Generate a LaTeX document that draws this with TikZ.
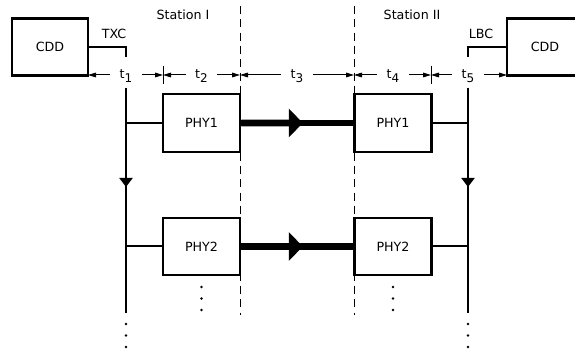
\documentclass[tikz,border=0pt]{standalone}
\usepackage{fontspec}
\setmainfont{DejaVu Sans}
\usetikzlibrary{arrows.meta,positioning,calc}
\newcommand{\tlab}[1]{t\raisebox{-0.55ex}{\small #1}}

\begin{document}
\begin{tikzpicture}[x=0.75pt, y=-0.75pt, every node/.style={font=\fontsize{9.5}{11}\selectfont},
    unitbox/.style={draw, line width=2.2pt, inner sep=0pt},
    busline/.style={line width=1.5pt},
    dimline/.style={line width=0.75pt},
    dimarrow/.style={line width=0.75pt, -{Triangle[length=6pt,width=3.5pt]}},
    stationline/.style={line width=0.75pt, dash pattern=on 6pt off 4pt},
    flowline/.style={line width=5pt}]
    \clip (0,0) rectangle (575,352);
    \useasboundingbox (0,0) rectangle (575,352);

    % station boundaries
    \draw[stationline] (240,6) -- (240,315);
    \draw[stationline] (354,6) -- (354,315);
    \node (stI) at (183,15) {Station I};
    \node (stII) at (412,15) {Station II};

    % control devices
    \node[unitbox, minimum width=57pt, minimum height=42.75pt] (cddL) at (50,47) {CDD};
    \node[unitbox, minimum width=57pt, minimum height=42.75pt] (cddR) at (545,47) {CDD};
    \node (txc) at (114,34) {TXC};
    \node (lbc) at (481,34) {LBC};

    % physical layer units
    \node[unitbox, minimum width=57.75pt, minimum height=43.5pt] (phy1L) at (201.5,123) {PHY1};
    \node[unitbox, minimum width=57.75pt, minimum height=43.5pt] (phy1R) at (393,123) {PHY1};
    \node[unitbox, minimum width=57.75pt, minimum height=42.75pt] (phy2L) at (201.5,246.5) {PHY2};
    \node[unitbox, minimum width=57.75pt, minimum height=42.75pt] (phy2R) at (393,246.5) {PHY2};

    % buses
    \coordinate (txcEnd) at (126,57);
    \coordinate (lbcEnd) at (468,57);
    \coordinate (busLtop) at (126,88);
    \coordinate (busLmid) at (126,187);
    \coordinate (busLbot) at (126,313);
    \coordinate (busRtop) at (468,88);
    \coordinate (busRmid) at (468,187);
    \coordinate (busRbot) at (468,313);
    \draw[busline] (cddL.east) -| (txcEnd);
    \draw[busline] (cddR.west) -| (lbcEnd);
    \draw[busline] (busLtop) -- (busLbot);
    \draw[busline, -{Triangle[length=6.75pt,width=9.75pt]}] (busLtop) -- (busLmid);
    \draw[busline] (busRtop) -- (busRbot);
    \draw[busline, -{Triangle[length=6.75pt,width=9.75pt]}] (busRtop) -- (busRmid);
    \draw[busline] (busLtop |- phy1L.west) -- (phy1L.west);
    \draw[busline] (busLtop |- phy2L.west) -- (phy2L.west);
    \draw[busline] (phy1R.east) -- (busRtop |- phy1R.east);
    \draw[busline] (phy2R.east) -- (busRtop |- phy2R.east);

    % transmission links
    \foreach \a/\b in {phy1L/phy1R, phy2L/phy2R} {
        \coordinate (tip) at ($(\a.east)!0.55!(\b.west)$);
        \draw[flowline] (\a.east) -- (\b.west);
        \draw[flowline, -{Triangle[length=10.5pt,width=21pt]}] (\a.east) -- (tip);
    }

    % delay dimensions
    \coordinate (d0) at (88,75);
    \coordinate (d1) at (163,75);
    \coordinate (d2) at (240,75);
    \coordinate (d3) at (354,75);
    \coordinate (d4) at (431,75);
    \coordinate (d5) at (507,75);
    \draw[dimline] (163,66) -- (163,84);
    \draw[dimline] (431,66) -- (431,84);
    \foreach \i/\x/\l/\r in {1/126/d0/d1, 2/201.5/d1/d2, 3/297/d2/d3, 4/393/d3/d4, 5/468/d4/d5} {
        \node[inner xsep=7pt, inner ysep=1pt] (t\i) at (\x,76) {\tlab{\i}};
        \draw[dimarrow] (t\i.west |- \l) -- (\l);
        \draw[dimarrow] (t\i.east |- \r) -- (\r);
    }

    % continuation dots
    \foreach \x/\y in {126/324, 468/324, 201.5/287, 393/287} {
        \foreach \k in {0,1,2} {
            \fill ($(\x,\y)+(0,\k*11.5)$) circle (1pt);
        }
    }
\end{tikzpicture}
\end{document}
